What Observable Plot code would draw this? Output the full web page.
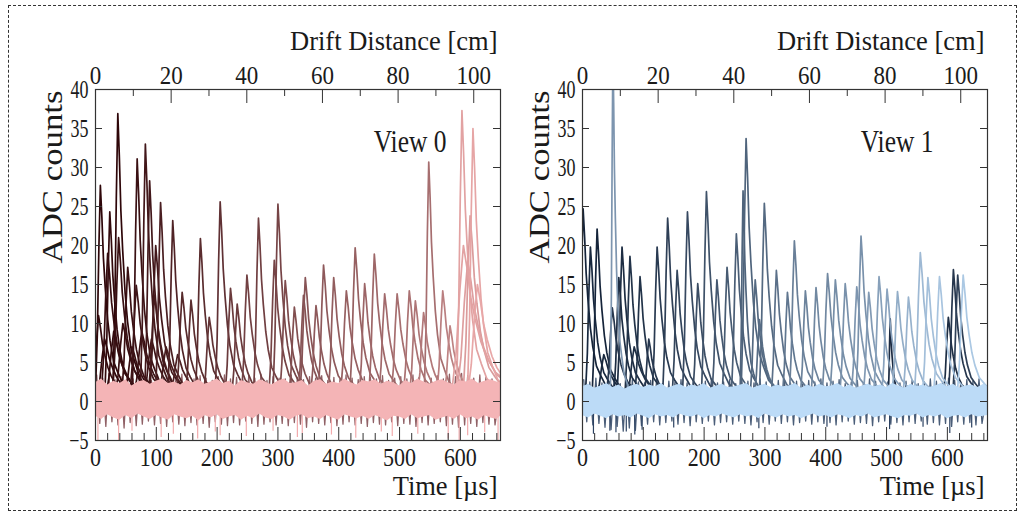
<!DOCTYPE html>
<html><head><meta charset="utf-8">
<script src="https://cdn.jsdelivr.net/npm/d3@7"></script>
<script src="https://cdn.jsdelivr.net/npm/@observablehq/plot@0.6"></script>
<style>
html,body{margin:0;padding:0;background:#fff;}
#wrap{position:relative;width:1021px;height:513px;overflow:hidden;font-family:"Liberation Serif","Times New Roman",serif;}
#wrap svg text{font-family:"Liberation Serif","Times New Roman",serif;}
#border{position:absolute;left:8px;top:5px;width:1009px;height:506px;border:1.5px dashed #333;box-sizing:border-box;}
.panel{position:absolute;top:0;}
</style></head>
<body>
<div id="wrap"><div id="border"></div><div id="p0" class="panel" style="left:0px"></div><div id="p1" class="panel" style="left:487px"></div></div>
<script>
// ---------- axes / ticks ----------
const tMax = 666;            // µs, right edge of the time axis
const usPerCm = 6.22;        // drift time per cm (top axis conversion)
const yTicks = [-5, 0, 5, 10, 15, 20, 25, 30, 35, 40];
const timeMajor = [0, 100, 200, 300, 400, 500, 600];
const timeMinor = [20,40,60,80,120,140,160,180,220,240,260,280,320,340,360,380,420,440,460,480,520,540,560,580,620,640,660];
const distMajor = [0, 20, 40, 60, 80, 100];
const distMinor = [10, 30, 50, 70, 90];

// ---------- pulse template (shape) ----------
const pulseDt   = [-15, -8, -5, -2.5, 0, 2.5, 5, 8, 12, 16, 22, 29, 37, 48, 62];
const pulseFrac = [0, 0.04, 0.3, 0.7, 1, 0.85, 0.66, 0.52, 0.37, 0.27, 0.17, 0.12, 0.07, 0.04, 0];
const pulseBase = 0.4;

// ---------- View 0 pulses ----------
const v0PeakT = [5,8,20,23.5,36.7,38,53,67,68.5,82, 89,97,99,107,127,142.5,157,172.5,187,205, 222,233,249,268,294,300,312,327,342,345, 362.6,375,391.7,412.5,427,442.6,458.5,475.5,496,516, 526,539.5,548,571,583,602.6,612,616,620.7, 15,30,45,60,76,92,116,135, 605,628];
const v0PeakV = [11,27.7,19,24.3,36.9,21,17.2,14.9,31.1,33.0, 28.3,13.6,20,25.5,23.2,14,13,20.9,10.8,25.6, 14.5,12.5,16.2,23.5,18.1,25.3,15.5,12.1,13.6,15.9, 12.3,17.5,15.9,14.2,19.7,15.1,18.9,13.8,13.8,14.2, 12.9,11.4,30.7,14.2,9.7,37.3,18,23.8,35, 8,9,10,7,9,8,7,6, 20,15];
const v0Shade = [0.02,0.0,0.04,0.02,0.0,0.05,0.06,0.08,0.06,0.1, 0.1,0.12,0.1,0.14,0.17,0.2,0.22,0.22,0.26,0.25, 0.3,0.3,0.34,0.33,0.36,0.36,0.4,0.42,0.44,0.45, 0.48,0.48,0.5,0.52,0.52,0.55,0.56,0.58,0.6,0.62, 0.64,0.66,0.6,0.7,0.72,0.9,0.88,0.86,0.92, 0.0,0.02,0.04,0.05,0.06,0.08,0.12,0.15, 0.9,0.93];
const v0Width = [1.3,1,1.3,1,1,1.2,1.2,1.3,1,1, 1,1.3,1.2,1,1,1.2,1.1,1,1.2,1, 1.1,1.1,1.1,1,1.1,1,1.1,1.1,1.1,1.1, 1.1,1.1,1.1,1.2,1.1,1.1,1.1,1.2,1.2,1.2, 1.2,1.2,0.9,1.2,1.2,1.1,2.2,1.4,1.1, 1.6,1.6,1.6,1.6,1.6,1.6,1.6,1.6, 2.4,2.0];

// View 0 baseline noise band (10 µs samples)
const v0LightHi = [2.4,2.9,2.1,2.6,2.3,2.8,2.0,2.5,2.7,2.2, 2.6,2.9,2.3,2.5,2.1,2.7,2.4,2.8,2.2,2.5, 2.9,2.3,2.6,2.0,2.7,2.4,2.2,2.8,2.5,2.1, 2.6,2.9,2.3,2.4,2.7,2.0,2.6,2.8,2.2,2.5, 2.3,2.9,2.4,2.1,2.7,2.5,2.8,2.2,2.6,2.4, 2.0,2.7,2.3,2.9,2.5,2.2,2.6,2.8,2.4,2.1, 2.7,2.5,2.9,2.3,2.6,2.8,2.5];
const v0LightLo = [-1.9,-2.3,-1.7,-2.1,-2.4,-1.8,-2.2,-1.6,-2.0,-2.3, -1.8,-2.1,-2.4,-1.7,-2.0,-2.2,-1.9,-2.5,-1.8,-2.1, -1.7,-2.3,-2.0,-1.8,-2.4,-1.9,-2.2,-1.6,-2.1,-2.3, -1.8,-2.0,-2.4,-1.9,-1.7,-2.2,-2.0,-2.3,-1.8,-2.1, -2.4,-1.7,-2.0,-2.2,-1.9,-2.3,-1.8,-2.1,-2.5,-1.9, -2.0,-2.3,-1.7,-2.2,-2.0,-1.8,-2.4,-2.1,-1.9,-2.3, -1.7,-2.2,-2.0,-2.4,-1.8,-2.1,-2.3];
const v0DarkHi = [3.4,3.0,3.6,2.8,3.2,3.5,2.9,3.3,3.1,2.7, 3.4,3.0,3.2,2.8,3.5,3.1,2.9,3.3,3.0,2.7, 3.2,3.4,2.9,3.1,2.8,3.3,3.0,3.5,2.7,3.2, 3.0,2.9,3.4,3.1,2.8,3.2,3.0,3.3,2.7,3.1, 2.9,3.4,3.0,2.8,3.2,3.1,2.9,3.3,2.7,3.0, 3.2,2.9,3.4,3.1,2.8,3.0,3.3,2.9,3.5,3.2, 3.6,3.3,3.0,3.4,3.1,2.9];
const v0DarkLo = [-2.8,-3.2,-2.6,-3.0,-3.4,-2.7,-3.1,-2.9,-2.5,-3.0, -2.8,-3.2,-2.6,-2.9,-3.1,-2.7,-3.0,-2.8,-3.3,-2.6, -2.9,-3.1,-2.7,-3.0,-2.5,-2.8,-3.2,-2.9,-2.6,-3.0, -2.8,-3.1,-2.7,-2.9,-3.3,-2.6,-2.8,-3.0,-2.7,-3.1, -2.9,-2.6,-3.0,-2.8,-3.2,-2.7,-2.9,-3.0,-2.6,-3.1, -2.8,-2.9,-3.2,-2.7,-3.0,-2.8,-2.6,-3.1,-2.9,-3.3, -3.0,-2.8,-3.2,-2.7,-2.9,-3.0];
const v0SpikeT = [4,38,60,108,128,168,197,205,248,292,332,340,388,428,470,488,530,580,598,612,640,662];
const v0SpikeV = [-5,-5,-3.8,-4.6,-4.2,-4.8,-3.9,-4.4,-4.5,-3.8,-4.6,-4.1,-4.3,-4.7,-3.9,-4.5,-4.2,-4.8,-5,-4.4,-4,-5];

// ---------- View 1 pulses ----------
const v1PeakT = [1,13,24,49,50,59.7,65,78,94.6,109, 122.7,140,155.6,172.6,189.5,203.8,221,237.7,253,264, 269,284,291,299,318.8,337,348.4,366.5,384,403, 415.8,432,451,458,470.7,487.6,500.8,506,518,536, 555.5,568,587,601.6,609.9,617,626, 35,85];
const v1PeakV = [24.7,19.8,22.1,12,45,15.9,19.8,18.6,16,8, 19.8,23.5,16.8,24.3,15.1,26.9,15.6,17.2,21.5,27, 33.7,15.6,10.5,25.4,16.8,14,20.6,14.2,14.6,16.4, 15.6,15.1,14.7,21.2,14,16,14.4,10.6,14.1,13.4, 19.1,15.9,16,10.8,16.9,16.2,16.2, 6,7];
const v1Shade = [0.0,0.02,0.0,0.1,0.62,0.05,0.05,0.08,0.08,0.1, 0.12,0.15,0.18,0.2,0.22,0.25,0.28,0.3,0.32,0.35, 0.35,0.38,0.4,0.38,0.42,0.45,0.5,0.52,0.55,0.55, 0.58,0.6,0.62,0.6,0.65,0.68,0.7,0.04,0.75,0.78, 0.82,0.85,0.88,0.05,0.1,0.15,0.9, 0.02,0.06];
const v1Width = [1,1,1,1.2,0.5,1,1,1,1,1, 1,1,1,1,1,1,1,1,1,0.6, 1,1,1,1,1,1,1,1,1,1.1, 1.1,1.1,1.1,1,1.1,1.1,1.1,0.4,1.1,1.1, 1.2,1.1,1.2,1,1,1,1.2, 1.5,1.5];

const v1LightHi = [1.9,2.2,1.7,2.0,2.3,1.8,2.1,1.6,2.0,2.2, 1.8,2.1,1.9,2.3,1.7,2.0,2.2,1.8,2.1,1.9, 2.3,1.7,2.0,2.2,1.8,1.9,2.1,2.3,1.7,2.0, 2.2,1.8,2.1,1.9,2.0,2.3,1.7,2.1,1.8,2.2, 1.9,2.0,2.3,1.8,2.1,1.7,2.0,2.2,1.9,2.1, 1.8,2.3,2.0,1.7,2.2,1.9,2.1,1.8,2.0,2.3, 1.9,2.2,1.7,2.0,2.1,1.8,2.2];
const v1LightLo = [-1.8,-2.1,-1.6,-1.9,-2.2,-1.7,-2.0,-1.8,-2.1,-1.6, -1.9,-2.2,-1.7,-2.0,-1.8,-2.1,-1.6,-1.9,-2.0,-1.7, -2.2,-1.8,-2.0,-1.6,-1.9,-2.1,-1.7,-2.0,-1.8,-2.2, -1.6,-1.9,-2.1,-1.7,-2.0,-1.8,-2.2,-1.9,-1.6,-2.0, -1.8,-2.1,-1.7,-1.9,-2.2,-1.8,-2.0,-1.6,-2.1,-1.9, -1.7,-2.0,-2.2,-1.8,-1.9,-1.6,-2.1,-1.8,-2.0,-1.7, -2.2,-1.9,-1.8,-2.1,-1.7,-2.0,-1.9];
const v1DarkHi = [2.8,2.5,3.0,2.4,2.7,2.9,2.3,2.6,2.8,2.5, 2.4,2.7,2.9,2.3,2.6,2.5,2.8,2.4,2.7,2.2, 2.6,2.9,2.4,2.5,2.8,2.3,2.7,2.6,2.4,2.9, 2.5,2.3,2.7,2.8,2.4,2.6,2.2,2.7,2.5,2.9, 2.4,2.6,2.8,2.3,2.5,2.7,2.4,2.9,2.6,2.3, 2.5,2.8,2.4,2.6,2.7,2.3,2.5,2.9,2.6,2.4, 3.0,2.7,2.5,2.8,2.6,2.9];
const v1DarkLo = [-2.6,-3.0,-2.8,-3.3,-3.6,-3.2,-3.8,-3.4,-3.7,-3.1, -2.9,-2.6,-3.0,-2.7,-2.5,-2.9,-2.7,-3.1,-2.6,-2.8, -2.5,-3.0,-2.7,-2.6,-2.9,-2.5,-2.8,-3.0,-2.6,-2.7, -2.9,-2.5,-2.8,-2.6,-3.0,-2.7,-2.5,-2.9,-2.6,-2.8, -2.7,-3.0,-2.6,-2.5,-2.9,-2.7,-2.8,-3.1,-2.6,-2.5, -2.9,-2.7,-3.0,-2.6,-2.8,-2.5,-2.9,-2.7,-3.0,-2.8, -3.2,-2.6,-2.9,-2.7,-3.0,-2.8];
const v1SpikeT = [18,45,55,72,86,98,150,290,402,505,560,604,640];
const v1SpikeV = [-4.2,-3.8,-4.0,-3.9,-4.3,-3.7,-3.4,-3.5,-3.3,-3.6,-3.3,-4.1,-3.4];

// ---------- drawing ----------
const FONT = "Liberation Serif, Times New Roman, serif";

// stretch texts about their own box (the original figure's lettering is taller than wide)
function stretchText(t, sx, sy, pivotEnd) {
  try {
    const b = t.getBBox();
    const px = pivotEnd ? b.x + b.width : b.x + b.width / 2;
    const py = b.y + b.height / 2;
    const tr = t.getAttribute("transform") || "";
    t.setAttribute("transform", `${tr} translate(${px},${py}) scale(${sx},${sy}) translate(${-px},${-py})`);
  } catch (e) { /* leave text unchanged */ }
}

function drawPanel(el, cfg) {
  const W = 510, H = 513, mL = 95, mR = 10, mT = 89, mB = 73;
  const fW = W - mL - mR, fH = H - mT - mB;

  const pulses = cfg.peakT.map((t, i) => ({id: i, t, v: cfg.peakV[i], s: cfg.shade[i] ?? 0.5, w: cfg.width[i] ?? 1}));
  pulses.sort((a, b) => a.s - b.s);
  const rows = [];
  pulses.forEach(p => pulseDt.forEach((dt, k) => rows.push({id: p.id, s: p.s, t: p.t + dt * p.w, v: pulseBase + (p.v - pulseBase) * pulseFrac[k]})));

  // baseline noise: light band (area) and darker traces peeking out as a zigzag
  const lightBand = cfg.lightHi.map((h, i) => ({t: i * 10, hi: h, lo: cfg.lightLo[i] ?? -2}));
  lightBand.push({t: tMax, hi: cfg.lightHi[0], lo: cfg.lightLo[0]});
  const darkNoise = [];
  cfg.darkHi.forEach((h, i) => {
    darkNoise.push({t: i * 10 + 2, v: h});
    darkNoise.push({t: i * 10 + 7, v: cfg.darkLo[i] ?? -2.8});
  });
  darkNoise.push({t: tMax + 2, v: cfg.darkHi[3]});
  const spikes = cfg.spikeT.map((t, i) => ({t, d: cfg.spikeV[i]}));

  const txt = {fill: "#1a1a1a", lineAnchor: "middle", fontFamily: FONT};
  const plot = Plot.plot({
    width: W, height: H, marginLeft: mL, marginRight: mR, marginTop: mT, marginBottom: mB,
    x: {domain: [0, tMax]},
    y: {domain: [-5, 40]},
    color: {type: "linear", domain: [0, 1], range: [cfg.dark, cfg.light]},
    style: {fontFamily: FONT, background: "none", overflow: "visible", color: "#1a1a1a"},
    marks: [
      Plot.line(darkNoise, {x: "t", y: "v", stroke: cfg.bandDark, strokeWidth: 1.3, strokeOpacity: cfg.darkOpacity, clip: true}),
      Plot.ruleX(spikes, {x: "t", y1: -1.5, y2: "d", stroke: cfg.spikeColor, strokeWidth: 1.2, clip: true}),
      Plot.line(rows, {x: "t", y: "v", z: "id", stroke: "s", strokeWidth: 1.7, clip: true}),
      Plot.areaY(lightBand, {x: "t", y1: "lo", y2: "hi", fill: cfg.bandLight, clip: true}),
      Plot.frame({stroke: "#333", strokeWidth: 1.2}),
      // inward tick marks
      Plot.tickX(timeMajor, {x: d => d, insetTop: fH - 13, stroke: "#333"}),
      Plot.tickX(timeMinor, {x: d => d, insetTop: fH - 7, stroke: "#333"}),
      Plot.tickX(distMajor.map(d => d * usPerCm), {x: d => d, insetBottom: fH - 14, stroke: "#333"}),
      Plot.tickX(distMinor.map(d => d * usPerCm), {x: d => d, insetBottom: fH - 7, stroke: "#333"}),
      Plot.tickY(yTicks, {y: d => d, insetRight: fW - 7, stroke: "#333"}),
      Plot.tickY(yTicks, {y: d => d, insetLeft: fW - 7, stroke: "#333"}),
      // tick labels
      Plot.axisX({anchor: "bottom", ticks: timeMajor, tickSize: 0, tickPadding: 9, fontSize: 22, label: null}),
      Plot.axisX({anchor: "top", ticks: distMajor.map(d => d * usPerCm), tickFormat: d => Math.round(d / usPerCm), tickSize: 0, tickPadding: 6, fontSize: 23, label: null}),
      Plot.axisY({anchor: "left", ticks: yTicks, tickSize: 0, tickPadding: 7, fontSize: 18, label: null}),
      // titles
      Plot.text([cfg.title], {...txt, text: d => d, frameAnchor: "top-right", dx: -54, dy: 52, fontSize: 25.5, textAnchor: "end"}),
      Plot.text(["Drift Distance [cm]"], {...txt, text: d => d, frameAnchor: "top-right", dx: -3, dy: -48, fontSize: 26.5, textAnchor: "end"}),
      Plot.text(["Time [µs]"], {...txt, text: d => d, frameAnchor: "bottom-right", dx: -3, dy: 46, fontSize: 26.5, textAnchor: "end"}),
      Plot.text(["ADC counts"], {...txt, text: d => d, frameAnchor: "top-left", dx: -43, dy: 1, rotate: -90, fontSize: 29, textAnchor: "end"})
    ]
  });
  el.appendChild(plot);
  const yLabels = new Set(yTicks.map(v => (v < 0 ? "\u2212" + (-v) : String(v))));
  plot.querySelectorAll("text").forEach(t => {
    const s = t.textContent;
    if (s === "ADC counts") stretchText(t, 1.2, 1, true);
    else if (s === cfg.title) stretchText(t, 1, 1.22, false);
    else if (s === "Drift Distance [cm]" || s === "Time [µs]") return;
    else {
      const g = t.closest("g[aria-label]");
      const lab = g ? g.getAttribute("aria-label") : "";
      if (lab.startsWith("y-axis")) stretchText(t, 1, 1.4, false);
      else if (lab.startsWith("x-axis")) stretchText(t, 1, 1.1, false);
    }
  });
}

drawPanel(document.getElementById("p0"), {
  title: "View 0", peakT: v0PeakT, peakV: v0PeakV, shade: v0Shade, width: v0Width,
  lightHi: v0LightHi, lightLo: v0LightLo, darkHi: v0DarkHi, darkLo: v0DarkLo,
  spikeT: v0SpikeT, spikeV: v0SpikeV,
  dark: "#2e0609", light: "#f6b3b3", bandLight: "#f4b4b6", bandDark: "#6b2c33", darkOpacity: 0.75, spikeColor: "#f2abad"
});
drawPanel(document.getElementById("p1"), {
  title: "View 1", peakT: v1PeakT, peakV: v1PeakV, shade: v1Shade, width: v1Width,
  lightHi: v1LightHi, lightLo: v1LightLo, darkHi: v1DarkHi, darkLo: v1DarkLo,
  spikeT: v1SpikeT, spikeV: v1SpikeV,
  dark: "#15243a", light: "#bcdaf6", bandLight: "#bcdbf7", bandDark: "#2c4262", darkOpacity: 0.85, spikeColor: "#2c4262"
});
</script>
</body></html>
